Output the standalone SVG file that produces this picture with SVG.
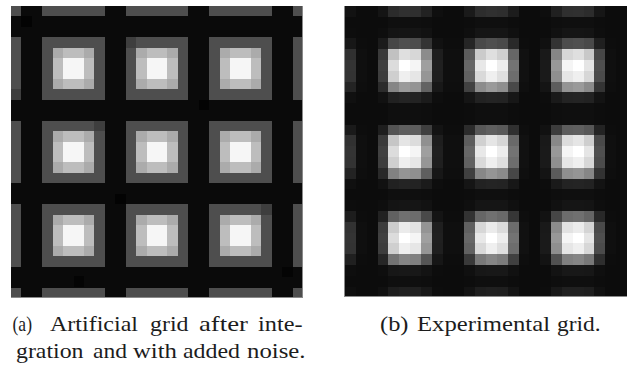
<svg xmlns="http://www.w3.org/2000/svg" xmlns:xlink="http://www.w3.org/1999/xlink" width="627" height="368" viewBox="0 0 627 368">
  <style>
    .px { shape-rendering: crispEdges; }
    .cap { font-family: "Liberation Serif", "DejaVu Serif", serif; font-size: 22px; fill: #1c1c1c; }
    .edge { stroke: #8a8a8a; stroke-width: 1; fill: none; shape-rendering: crispEdges; }
  </style>
  <defs>
    <!-- one bright spot of the artificial grid: 4x4 cells, cell = 10.4286 -->
    <g id="spot" class="px">
      <rect x="0" y="0" width="41.714" height="41.714" fill="#ababab"/>
      <rect x="0" y="10.429" width="41.714" height="20.857" fill="#bdbdbd"/>
      <rect x="10.429" y="0" width="20.857" height="41.714" fill="#bdbdbd"/>
      <rect x="10.429" y="10.429" width="20.857" height="20.857" fill="#f6f6f6"/>
    </g>
  </defs>

  <rect width="627" height="368" fill="#ffffff"/>

  <!-- (a) artificial grid, 28 x 28 pixels -->
  <g id="panel-a" class="px">
    <rect x="11" y="6" width="292" height="292" fill="#4e4e4e"/>
    <!-- dark bands between the spots -->
    <g fill="#0a0a0a">
      <rect x="11" y="16.429" width="292" height="20.857"/>
      <rect x="11" y="99.857" width="292" height="20.857"/>
      <rect x="11" y="183.286" width="292" height="20.857"/>
      <rect x="11" y="266.714" width="292" height="20.857"/>
      <rect x="21.429" y="6" width="20.857" height="292"/>
      <rect x="104.857" y="6" width="20.857" height="292"/>
      <rect x="188.286" y="6" width="20.857" height="292"/>
      <rect x="271.714" y="6" width="20.857" height="292"/>
    </g>
    <!-- noise on a few cells -->
    <g fill="#000000" opacity="0.6">
      <rect x="21.429" y="16.429" width="10.429" height="10.429"/>
      <rect x="115.286" y="193.714" width="10.429" height="10.429"/>
      <rect x="198.714" y="99.857" width="10.429" height="10.429"/>
      <rect x="282.143" y="266.714" width="10.429" height="10.429"/>
      <rect x="73.571" y="276.143" width="10.429" height="10.429"/>
    </g>
    <g fill="#3e3e3e">
      <rect x="125.714" y="37.286" width="10.429" height="10.429"/>
      <rect x="94.429" y="120.714" width="10.429" height="10.429"/>
      <rect x="261.286" y="204.143" width="10.429" height="10.429"/>
      <rect x="11" y="89.429" width="10.429" height="10.429"/>
    </g>
    <use xlink:href="#spot" x="52.714" y="47.714"/>
    <use xlink:href="#spot" x="136.143" y="47.714"/>
    <use xlink:href="#spot" x="219.571" y="47.714"/>
    <use xlink:href="#spot" x="52.714" y="131.143"/>
    <use xlink:href="#spot" x="136.143" y="131.143"/>
    <use xlink:href="#spot" x="219.571" y="131.143"/>
    <use xlink:href="#spot" x="52.714" y="214.571"/>
    <use xlink:href="#spot" x="136.143" y="214.571"/>
    <use xlink:href="#spot" x="219.571" y="214.571"/>
    <path class="edge" d="M302.5 6V297.5H11"/>
  </g>

  <!-- (b) experimental grid, 26 x 27 pixels: row profile x column profile -->
  <g id="panel-b" class="px" style="isolation:isolate">
    <g id="rows">
      <rect x="345" y="6" width="282" height="10.79" fill="#262626"/>
      <rect x="345" y="16.79" width="282" height="10.79" fill="#040404"/>
      <rect x="345" y="27.58" width="282" height="10.79" fill="#0a0a0a"/>
      <rect x="345" y="38.37" width="282" height="10.79" fill="#474747"/>
      <rect x="345" y="49.16" width="282" height="10.79" fill="#dedede"/>
      <rect x="345" y="59.95" width="282" height="10.79" fill="#ffffff"/>
      <rect x="345" y="70.74" width="282" height="10.79" fill="#efefef"/>
      <rect x="345" y="81.53" width="282" height="10.79" fill="#959595"/>
      <rect x="345" y="92.32" width="282" height="10.79" fill="#1a1a1a"/>
      <rect x="345" y="103.11" width="282" height="10.79" fill="#040404"/>
      <rect x="345" y="113.9" width="282" height="10.79" fill="#040404"/>
      <rect x="345" y="124.69" width="282" height="10.79" fill="#585858"/>
      <rect x="345" y="135.48" width="282" height="10.79" fill="#e4e4e4"/>
      <rect x="345" y="146.27" width="282" height="10.79" fill="#ffffff"/>
      <rect x="345" y="157.06" width="282" height="10.79" fill="#efefef"/>
      <rect x="345" y="167.85" width="282" height="10.79" fill="#909090"/>
      <rect x="345" y="178.64" width="282" height="10.79" fill="#1a1a1a"/>
      <rect x="345" y="189.43" width="282" height="10.79" fill="#040404"/>
      <rect x="345" y="200.22" width="282" height="10.79" fill="#0a0a0a"/>
      <rect x="345" y="211.01" width="282" height="10.79" fill="#696969"/>
      <rect x="345" y="221.8" width="282" height="10.79" fill="#ebebeb"/>
      <rect x="345" y="232.59" width="282" height="10.79" fill="#ffffff"/>
      <rect x="345" y="243.38" width="282" height="10.79" fill="#efefef"/>
      <rect x="345" y="254.17" width="282" height="10.79" fill="#7f7f7f"/>
      <rect x="345" y="264.96" width="282" height="10.79" fill="#0d0d0d"/>
      <rect x="345" y="275.75" width="282" height="10.79" fill="#040404"/>
      <rect x="345" y="286.54" width="282" height="10.79" fill="#151515"/>
    </g>
    <g id="cols" style="mix-blend-mode:multiply">
      <rect x="345" y="6" width="10.85" height="291.33" fill="#2b2b2b"/>
      <rect x="355.85" y="6" width="10.85" height="291.33" fill="#040404"/>
      <rect x="366.69" y="6" width="10.85" height="291.33" fill="#000000"/>
      <rect x="377.54" y="6" width="10.85" height="291.33" fill="#373737"/>
      <rect x="388.38" y="6" width="10.85" height="291.33" fill="#dbdbdb"/>
      <rect x="399.23" y="6" width="10.85" height="291.33" fill="#ffffff"/>
      <rect x="410.08" y="6" width="10.85" height="291.33" fill="#f5f5f5"/>
      <rect x="420.92" y="6" width="10.85" height="291.33" fill="#9b9b9b"/>
      <rect x="431.77" y="6" width="10.85" height="291.33" fill="#151515"/>
      <rect x="442.62" y="6" width="10.85" height="291.33" fill="#040404"/>
      <rect x="453.46" y="6" width="10.85" height="291.33" fill="#040404"/>
      <rect x="464.31" y="6" width="10.85" height="291.33" fill="#606060"/>
      <rect x="475.15" y="6" width="10.85" height="291.33" fill="#e7e7e7"/>
      <rect x="486" y="6" width="10.85" height="291.33" fill="#ffffff"/>
      <rect x="496.85" y="6" width="10.85" height="291.33" fill="#ededed"/>
      <rect x="507.69" y="6" width="10.85" height="291.33" fill="#6d6d6d"/>
      <rect x="518.54" y="6" width="10.85" height="291.33" fill="#060606"/>
      <rect x="529.38" y="6" width="10.85" height="291.33" fill="#000000"/>
      <rect x="540.23" y="6" width="10.85" height="291.33" fill="#0f0f0f"/>
      <rect x="551.08" y="6" width="10.85" height="291.33" fill="#939393"/>
      <rect x="561.92" y="6" width="10.85" height="291.33" fill="#f5f5f5"/>
      <rect x="572.77" y="6" width="10.85" height="291.33" fill="#ffffff"/>
      <rect x="583.62" y="6" width="10.85" height="291.33" fill="#e4e4e4"/>
      <rect x="594.46" y="6" width="10.85" height="291.33" fill="#474747"/>
      <rect x="605.31" y="6" width="10.85" height="291.33" fill="#040404"/>
      <rect x="616.15" y="6" width="10.85" height="291.33" fill="#000000"/>
    </g>
    <!-- sensor floor level -->
    <rect x="345" y="6" width="282" height="291.33" fill="#ffffff" opacity="0.047"/>
  </g>
  <path class="edge" d="M344.5 6V296.8H627"/>

  <!-- captions -->
  <g id="caption-a" class="cap">
    <text x="12.5" y="331" textLength="19.5" lengthAdjust="spacingAndGlyphs">(a)</text>
    <text x="50" y="331" textLength="88" lengthAdjust="spacingAndGlyphs">Artificial</text>
    <text x="150" y="331" textLength="38.5" lengthAdjust="spacingAndGlyphs">grid</text>
    <text x="199" y="331" textLength="49" lengthAdjust="spacingAndGlyphs">after</text>
    <text x="258" y="331" textLength="44.5" lengthAdjust="spacingAndGlyphs">inte-</text>
    <text x="16" y="358" textLength="67.5" lengthAdjust="spacingAndGlyphs">gration</text>
    <text x="93" y="358" textLength="34" lengthAdjust="spacingAndGlyphs">and</text>
    <text x="133" y="358" textLength="44" lengthAdjust="spacingAndGlyphs">with</text>
    <text x="183" y="358" textLength="57" lengthAdjust="spacingAndGlyphs">added</text>
    <text x="247" y="358" textLength="58.5" lengthAdjust="spacingAndGlyphs">noise.</text>
  </g>
  <g id="caption-b" class="cap">
    <text x="380" y="331" textLength="28.5" lengthAdjust="spacingAndGlyphs">(b)</text>
    <text x="417" y="331" textLength="133" lengthAdjust="spacingAndGlyphs">Experimental</text>
    <text x="557" y="331" textLength="43.5" lengthAdjust="spacingAndGlyphs">grid.</text>
  </g>
</svg>
